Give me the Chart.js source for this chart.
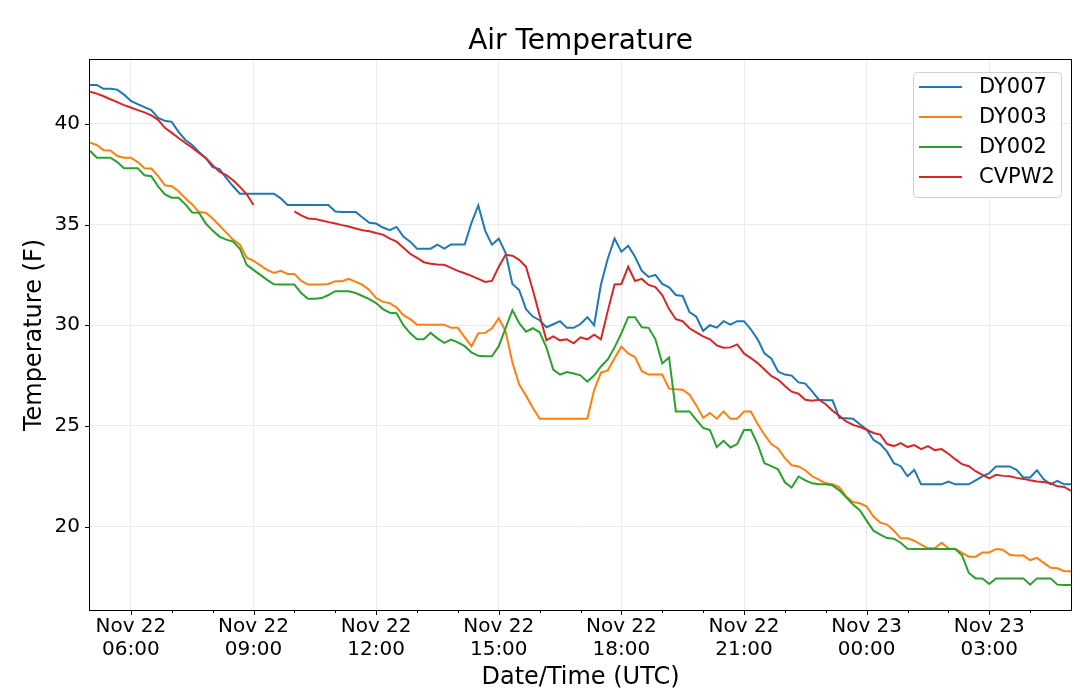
<!DOCTYPE html>
<html lang="en">
<head>
  <meta charset="UTF-8">
  <title>Air Temperature</title>
  <script src="https://cdn.jsdelivr.net/npm/chart.js"></script>
  <style>
    html, body { margin: 0; padding: 0; background: #fff; }
    #wrap { width: 1080px; height: 692px; }
  </style>
</head>
<body>
  <div id="wrap"><canvas id="graficoTemp" width="1080" height="692"></canvas></div>
  <script>
    // Stations and colours
    const seriesNames = ["DY007", "DY003", "DY002", "CVPW2"];
    const seriesColors = ["#1f77b4", "#ff7f0e", "#2ca02c", "#d62728"];

    // Samples every 10 minutes from Nov 22 05:00 UTC (hours since Nov 22 00:00)
    const startHour = 5;
    const stepMinutes = 10;

    const dy007 = [
      41.93, 41.93, 41.74, 41.74, 41.7, 41.45, 41.14, 40.98, 40.83, 40.68,
      40.3, 40.15, 40.1, 39.6, 39.2, 38.95, 38.6, 38.3, 37.85, 37.75,
      37.3, 36.9, 36.53, 36.53, 36.53, 36.53, 36.53, 36.53, 36.3, 35.97,
      35.97, 35.97, 35.97, 35.97, 35.97, 35.97, 35.65, 35.62, 35.62, 35.62,
      35.35, 35.09, 35.05, 34.85, 34.72, 34.88, 34.4, 34.15, 33.8, 33.8,
      33.8, 34.0, 33.81, 34.01, 34.01, 34.01, 35.09, 35.95, 34.7, 34.0,
      34.3, 33.6, 32.05, 31.75, 30.8, 30.43, 30.25, 29.9, 30.05, 30.2,
      29.87, 29.87, 30.06, 30.4, 30.0, 32.02, 33.3, 34.3, 33.65, 33.95,
      33.4, 32.7, 32.4, 32.5, 32.05, 31.88, 31.5, 31.45, 30.65, 30.42,
      29.72, 30.0, 29.88, 30.2, 30.03, 30.2, 30.2, 29.8, 29.3, 28.6,
      28.35, 27.7, 27.55, 27.5, 27.16, 27.1, 26.72, 26.3, 26.27, 26.27,
      25.39, 25.38, 25.36, 25.08, 24.82, 24.31, 24.1, 23.72, 23.15, 23.0,
      22.5, 22.82, 22.1, 22.1, 22.1, 22.1, 22.24, 22.1, 22.1, 22.1,
      22.3, 22.5, 22.65, 22.99, 22.99, 22.99, 22.82, 22.44, 22.44, 22.8,
      22.35, 22.1, 22.27, 22.1, 22.1
    ];
    const dy003 = [
      39.07, 38.95, 38.69, 38.68, 38.4, 38.32, 38.32, 38.1, 37.8, 37.78,
      37.4, 36.95, 36.9, 36.65, 36.3, 36.0, 35.62, 35.59, 35.3, 34.95,
      34.6, 34.25, 34.0, 33.35, 33.2, 32.97, 32.75, 32.6, 32.7, 32.55,
      32.55, 32.2, 32.02, 32.02, 32.02, 32.05, 32.19, 32.19, 32.3, 32.15,
      32.0, 31.75, 31.35, 31.16, 31.1, 30.88, 30.5, 30.3, 30.03, 30.03,
      30.03, 30.03, 30.03, 29.87, 29.87, 29.4, 28.96, 29.6, 29.62, 29.85,
      30.35, 29.7, 28.15, 27.05, 26.5, 25.9, 25.36, 25.36, 25.36, 25.36,
      25.36, 25.36, 25.36, 25.36, 26.78, 27.65, 27.76, 28.36, 28.94, 28.6,
      28.42, 27.72, 27.55, 27.55, 27.55, 26.85, 26.82, 26.8, 26.55, 26.02,
      25.4, 25.64, 25.36, 25.72, 25.36, 25.36, 25.72, 25.72, 25.1, 24.56,
      24.1, 23.88, 23.4, 23.05, 22.99, 22.8, 22.5, 22.33, 22.15, 22.1,
      21.95, 21.5, 21.22, 21.16, 21.0, 20.5, 20.2, 20.1, 19.8, 19.42,
      19.42, 19.3, 19.1, 18.92, 18.92, 19.2, 18.92, 18.9, 18.7, 18.51,
      18.51, 18.72, 18.72, 18.89, 18.85, 18.6, 18.56, 18.56, 18.34, 18.45,
      18.2, 17.96, 17.93, 17.79, 17.79
    ];
    const dy002 = [
      38.66, 38.32, 38.32, 38.32, 38.1, 37.8, 37.8, 37.8, 37.45, 37.4,
      36.9, 36.5, 36.33, 36.33, 36.0, 35.6, 35.59, 35.05, 34.7, 34.4,
      34.25, 34.15, 33.8, 33.0, 32.75, 32.5, 32.25, 32.03, 32.02, 32.02,
      32.02, 31.6, 31.31, 31.31, 31.35, 31.5, 31.69, 31.69, 31.69, 31.6,
      31.45, 31.3, 31.1, 30.8, 30.62, 30.6, 30.0, 29.6, 29.3, 29.3,
      29.62, 29.35, 29.12, 29.29, 29.15, 28.96, 28.65, 28.48, 28.46, 28.46,
      28.96, 29.85, 30.75, 30.1, 29.68, 29.85, 29.65, 28.9, 27.8, 27.55,
      27.68, 27.6, 27.51, 27.2, 27.5, 27.95, 28.3, 28.9, 29.6, 30.4,
      30.4, 29.9, 29.87, 29.3, 28.1, 28.4, 25.72, 25.72, 25.72, 25.3,
      24.9, 24.8, 23.95, 24.26, 23.93, 24.1, 24.8, 24.81, 24.1, 23.15,
      23.0, 22.85, 22.2, 21.94, 22.49, 22.3, 22.15, 22.1, 22.1, 22.05,
      21.8, 21.45, 21.1, 20.82, 20.3, 19.8, 19.6, 19.43, 19.4, 19.2,
      18.9, 18.89, 18.89, 18.89, 18.89, 18.89, 18.89, 18.89, 18.58, 17.7,
      17.43, 17.43, 17.15, 17.43, 17.43, 17.43, 17.43, 17.43, 17.12, 17.43,
      17.43, 17.43, 17.12, 17.1, 17.1
    ];
    // CVPW2 has no data between 09:10 and 09:50
    const cvpw2 = [
      41.59, 41.5, 41.37, 41.22, 41.08, 40.93, 40.81, 40.68, 40.57, 40.42,
      40.2, 39.8, 39.55, 39.3, 39.05, 38.82, 38.55, 38.3, 37.95, 37.62,
      37.45, 37.2, 36.87, 36.5, 35.97, null, null, null, null, null,
      35.65, 35.45, 35.3, 35.28, 35.2, 35.12, 35.05, 34.97, 34.9, 34.8,
      34.72, 34.67, 34.58, 34.5, 34.3, 34.15, 33.85, 33.55, 33.35, 33.13,
      33.05, 33.02, 33.0, 32.85, 32.7, 32.58, 32.45, 32.3, 32.15, 32.2,
      32.9, 33.5, 33.45, 33.25, 32.9, 31.75, 30.5, 29.25, 29.45, 29.25,
      29.3, 29.1, 29.4, 29.3, 29.53, 29.3, 30.7, 32.02, 32.05, 32.9,
      32.2, 32.3, 32.0, 31.89, 31.5, 30.8, 30.3, 30.2, 29.85, 29.65,
      29.45, 29.3, 29.0, 28.88, 28.9, 29.05, 28.6, 28.37, 28.12, 27.8,
      27.48, 27.3, 26.98, 26.7, 26.6, 26.3, 26.25, 26.3, 26.08, 25.75,
      25.5, 25.22, 25.05, 24.95, 24.81, 24.65, 24.57, 24.1, 24.0, 24.15,
      23.95, 24.05, 23.85, 24.0, 23.8, 23.85, 23.62, 23.35, 23.1, 23.0,
      22.75, 22.57, 22.4, 22.57, 22.52, 22.5, 22.42, 22.37, 22.3, 22.24,
      22.22, 22.15, 22.0, 21.97, 21.78
    ];

    // Axis ticks
    const tickHours = [6, 9, 12, 15, 18, 21, 24, 27];
    const tickDays = ["Nov 22", "Nov 22", "Nov 22", "Nov 22", "Nov 22", "Nov 22", "Nov 23", "Nov 23"];
    const tickTimes = ["06:00", "09:00", "12:00", "15:00", "18:00", "21:00", "00:00", "03:00"];
    const yTicks = [20, 25, 30, 35, 40];

    const xMin = 5, xMax = 29;
    const yMin = 15.86, yMax = 43.17;

    const fonte = "'DejaVu Sans', 'Liberation Sans', sans-serif";
    Chart.defaults.font.family = fonte;
    Chart.defaults.color = "#000";

    function toPoints(valores) {
      return valores.map((v, i) => ({ x: startHour + i * stepMinutes / 60, y: v }));
    }

    const todasSeries = [dy007, dy003, dy002, cvpw2];
    const datasets = todasSeries.map((valores, k) => ({
      label: seriesNames[k],
      data: toPoints(valores),
      borderColor: seriesColors[k],
      backgroundColor: seriesColors[k],
      borderWidth: 2,
      pointRadius: 0,
      tension: 0,
      fill: false,
      spanGaps: false,
      order: todasSeries.length - 1 - k   // last series drawn on top
    }));

    // Frame, tick marks and the boxed legend inside the plot
    const molduraLegenda = {
      id: "molduraLegenda",
      afterDraw(chart) {
        const { ctx, chartArea: a, scales } = chart;
        const x = scales.x, y = scales.y;
        ctx.save();
        ctx.strokeStyle = "#000";
        ctx.lineWidth = 1;

        // tick marks
        ctx.beginPath();
        x.ticks.forEach(t => {
          const px = Math.round(x.getPixelForValue(t.value)) + 0.5;
          const len = tickHours.includes(t.value) ? 5 : 3;
          ctx.moveTo(px, a.bottom);
          ctx.lineTo(px, a.bottom + len);
        });
        yTicks.forEach(v => {
          const py = Math.round(y.getPixelForValue(v)) + 0.5;
          ctx.moveTo(a.left - 5, py);
          ctx.lineTo(a.left, py);
        });
        ctx.stroke();

        // axes box
        ctx.strokeRect(Math.round(a.left) - 0.5, Math.round(a.top) - 0.5,
          Math.round(a.right - a.left) + 1, Math.round(a.bottom - a.top) + 1);

        // legend
        const w = 148, h = 125;
        const bx = a.right - 10 - w, by = a.top + 12;
        ctx.beginPath();
        if (ctx.roundRect) ctx.roundRect(bx + 0.5, by + 0.5, w, h, 4);
        else ctx.rect(bx + 0.5, by + 0.5, w, h);
        ctx.fillStyle = "rgba(255,255,255,0.8)";
        ctx.fill();
        ctx.strokeStyle = "#d0d0d0";
        ctx.stroke();

        ctx.font = "21px " + fonte;
        ctx.textBaseline = "middle";
        ctx.textAlign = "left";
        seriesNames.forEach((nome, k) => {
          const ly = by + 15 + k * 30;
          ctx.beginPath();
          ctx.strokeStyle = seriesColors[k];
          ctx.lineWidth = 2;
          ctx.moveTo(bx + 6, ly);
          ctx.lineTo(bx + 49, ly);
          ctx.stroke();
          ctx.fillStyle = "#000";
          ctx.fillText(nome, bx + 66, ly + 1);
        });
        ctx.restore();
      }
    };

    new Chart(document.getElementById("graficoTemp"), {
      type: "line",
      data: { datasets: datasets },
      plugins: [molduraLegenda],
      options: {
        responsive: false,
        animation: false,
        devicePixelRatio: 1,
        layout: { padding: { left: 0, right: 9, top: 0, bottom: 0 } },
        plugins: {
          legend: { display: false },
          tooltip: { enabled: false },
          title: {
            display: true,
            text: "Air Temperature",
            fullSize: false,
            color: "#000",
            font: { size: 28, weight: "normal" },
            padding: { top: 25, bottom: 1.4 }
          }
        },
        scales: {
          x: {
            type: "linear",
            min: xMin,
            max: xMax,
            afterBuildTicks: s => {
              const marcas = [];
              for (let hora = xMin + 1; hora < xMax; hora++) marcas.push({ value: hora });
              s.ticks = marcas;
            },
            afterFit: s => { s.height = 82; },
            border: { display: false },
            grid: {
              drawTicks: false,
              lineWidth: 1,
              color: c => (c.tick && tickHours.includes(c.tick.value)) ? "#ebebeb" : "rgba(0,0,0,0)"
            },
            ticks: {
              autoSkip: false,
              maxRotation: 0,
              padding: 5,
              color: "#000",
              font: { size: 20, lineHeight: 1.175 },
              callback: v => {
                const k = tickHours.indexOf(v);
                return k >= 0 ? [tickDays[k], tickTimes[k]] : "";
              }
            },
            title: {
              display: true,
              text: "Date/Time (UTC)",
              color: "#000",
              font: { size: 24 },
              padding: { top: 0, bottom: 0 }
            }
          },
          y: {
            min: yMin,
            max: yMax,
            afterBuildTicks: s => { s.ticks = yTicks.map(v => ({ value: v })); },
            afterFit: s => { s.width = 90; },
            border: { display: false },
            grid: { drawTicks: false, lineWidth: 1, color: "#ebebeb" },
            ticks: {
              padding: 10,
              color: "#000",
              font: { size: 20 }
            },
            title: {
              display: true,
              text: "Temperature (F)",
              color: "#000",
              font: { size: 24 },
              padding: { top: 20, bottom: 0 }
            }
          }
        }
      }
    });
  </script>
</body>
</html>
